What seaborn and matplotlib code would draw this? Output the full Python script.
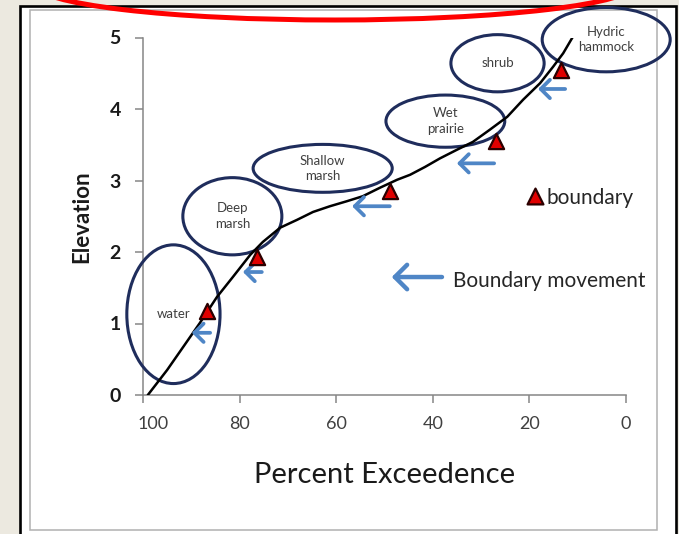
"""Elevation vs percent exceedence with vegetation zone boundaries."""

import matplotlib
matplotlib.use("Agg")
import matplotlib.pyplot as plt
import matplotlib.transforms as mtransforms
import seaborn as sns
from matplotlib.patches import Ellipse, Rectangle

# stage-duration curve (percent exceedence, elevation)
curve_pct = [99.0, 95.0, 91.7, 88.2, 84.7, 81.4, 77.8, 75.2, 71.6, 68.1,
             64.8, 61.3, 57.8, 54.5, 50.9, 47.4, 44.7, 41.6, 38.5, 35.0,
             31.7, 28.2, 24.6, 21.3, 17.8, 15.1, 13.0, 11.0]
curve_elev = [0.00, 0.35, 0.67, 1.01, 1.37, 1.65, 1.96, 2.14, 2.34, 2.45,
              2.56, 2.64, 2.71, 2.78, 2.90, 3.01, 3.08, 3.19, 3.31, 3.43,
              3.54, 3.71, 3.89, 4.13, 4.36, 4.59, 4.78, 5.01]

# zone boundaries (red triangles)
boundary_pct = [86.8, 76.5, 48.9, 26.9, 13.5]
boundary_elev = [1.18, 1.93, 2.86, 3.55, 4.55]

# boundary movement arrows: tail -> head at a given elevation
move_from = [86.1, 75.4, 48.9, 27.3, 12.6]
move_to = [89.9, 79.3, 56.7, 35.0, 18.2]
move_elev = [0.87, 1.72, 2.64, 3.24, 4.28]

# vegetation zones
zone_labels = ["water", "Deep\nmarsh", "Shallow\nmarsh", "Wet\nprairie", "shrub", "Hydric\nhammock"]
zone_pct = [93.7, 81.5, 62.8, 37.4, 26.6, 4.1]
zone_elev = [1.13, 2.50, 3.17, 3.83, 4.64, 4.97]
zone_w = [19.3, 20.5, 28.8, 24.6, 19.3, 26.5]
zone_h = [1.94, 1.08, 0.67, 0.73, 0.80, 0.90]

x_ticks = [100, 80, 60, 40, 20, 0]
y_ticks = [0, 1, 2, 3, 4, 5]

W, H = 679, 534

sns.set_theme(style="ticks")
plt.rcParams["font.family"] = ["Lato", "DejaVu Sans"]

ARROW = "#4f86c6"
NAVY = "#1f2d5c"


def fx(px):
    return px / W


def fy(py):
    return 1 - py / H


fig = plt.figure(figsize=(W / 100, H / 100), dpi=100)
fig.patch.set_facecolor("#ece9e0")

# slide-like frame
fig.patches.append(Rectangle((fx(19.5), fy(545)), fx(675.5) - fx(19.5), fy(6) - fy(545),
                             transform=fig.transFigure, facecolor="white",
                             edgecolor="black", lw=1.9, zorder=-2))
fig.patches.append(Rectangle((fx(30), fy(530)), fx(657) - fx(30), fy(10) - fy(530),
                             transform=fig.transFigure, facecolor="none",
                             edgecolor="#b0b0b0", lw=1.1, zorder=-1))

ax = fig.add_axes([fx(143), fy(395), fx(626) - fx(143), fy(37.5) - fy(395)])
ax.set_facecolor("none")
ax.set_zorder(2)

sns.lineplot(x=curve_pct, y=curve_elev, sort=False, estimator=None,
             color="black", lw=1.8, ax=ax, zorder=4)
sns.scatterplot(x=boundary_pct, y=boundary_elev, marker="^", s=120,
                color="#e00000", edgecolor="#2b0000", linewidth=1.6, ax=ax, zorder=6)

for x0, x1, y in zip(move_from, move_to, move_elev):
    ax.annotate("", xy=(x1, y), xytext=(x0, y),
                arrowprops=dict(arrowstyle="->, head_length=0.55, head_width=0.55",
                                color=ARROW, lw=2.7, mutation_scale=12,
                                shrinkA=0, shrinkB=0), zorder=5)

for lab, cx, cy, w, h in zip(zone_labels, zone_pct, zone_elev, zone_w, zone_h):
    ax.add_patch(Ellipse((cx, cy), w, h, fill=False, edgecolor=NAVY, lw=2.2,
                         clip_on=False, zorder=3))
    ax.text(cx, cy, lab, ha="center", va="center", fontsize=9.5,
            color="#404040", linespacing=1.35, zorder=7)

# legend
ax.scatter([0.8116], [0.5566], transform=ax.transAxes, marker="^", s=130,
           color="#e00000", edgecolor="#2b0000", linewidth=1.6, clip_on=False, zorder=6)
ax.text(0.836, 0.5497, "boundary", transform=ax.transAxes, ha="left", va="center",
        fontsize=15, color="#262626")
ax.annotate("", xy=(0.515, 0.330), xytext=(0.619, 0.330), xycoords="axes fraction",
            arrowprops=dict(arrowstyle="->, head_length=0.55, head_width=0.55",
                            color=ARROW, lw=3.2, mutation_scale=16, shrinkA=0, shrinkB=0))
ax.text(0.642, 0.319, "Boundary movement", transform=ax.transAxes, ha="left",
        va="center", fontsize=15, color="#262626")

ax.set_xlim(100, 0)
ax.set_ylim(0, 5)
ax.set_xticks(x_ticks)
ax.set_yticks(y_ticks)
ax.set_xticklabels([str(t) for t in x_ticks], fontsize=13, color="#404040")
ax.set_yticklabels([str(t) for t in y_ticks], fontsize=14, fontweight="bold", color="#1a1a1a")
ax.tick_params(axis="both", direction="out", length=6, width=1.1, color="#868686")
ax.tick_params(axis="x", pad=9)
ax.tick_params(axis="y", pad=10)
for side in ["top", "right"]:
    ax.spines[side].set_visible(False)
for side in ["left", "bottom"]:
    ax.spines[side].set_color("#868686")
    ax.spines[side].set_linewidth(1.1)

# first x label sits slightly right of its tick, as in the original
first = ax.get_xticklabels()[0]
first.set_transform(first.get_transform()
                    + mtransforms.ScaledTranslation(10 / 100, 0, fig.dpi_scale_trans))

ax.set_xlabel("Percent Exceedence", fontsize=21, color="#1a1a1a", labelpad=22)
ax.set_ylabel("Elevation", fontsize=16, fontweight="bold", color="#1a1a1a", labelpad=12)

# red highlight ellipse at the top of the slide
fig.patches.append(Ellipse((fx(335), fy(-15.5)), 600 / W, 71 / H, transform=fig.transFigure,
                           fill=False, edgecolor="#ff0000", lw=3.6, zorder=10))

fig.savefig("out.png", dpi=100)
